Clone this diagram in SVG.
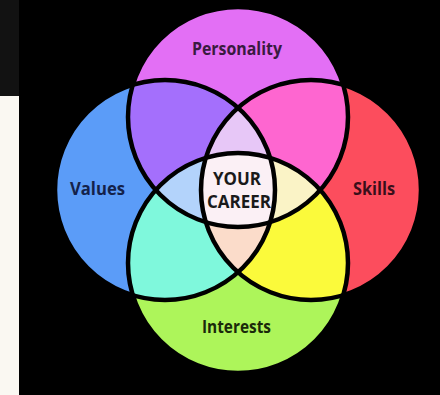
<svg xmlns="http://www.w3.org/2000/svg" width="440" height="395" viewBox="0 0 440 395">
<style>
.lbl{font-family:"Open Sans","Noto Sans","Liberation Sans",sans-serif;font-weight:700;font-size:18px;text-anchor:middle}
.edge{fill:none;stroke:#000;stroke-width:4.5}
</style>
<defs>
<clipPath id="cT"><circle cx="238" cy="117" r="110"/></clipPath>
<clipPath id="cL"><circle cx="165" cy="190" r="110"/></clipPath>
<clipPath id="cR"><circle cx="311" cy="190" r="110"/></clipPath>
<clipPath id="cB"><circle cx="238" cy="263" r="110"/></clipPath>
</defs>
<rect width="440" height="395" fill="#000"/>
<rect x="0" y="0" width="19" height="96" fill="#121212"/>
<rect x="0" y="96" width="19" height="299" fill="#faf8f2"/>

<g id="personality"><circle cx="238" cy="117" r="110" fill="#e36ff5"/></g>
<g id="values"><circle cx="165" cy="190" r="110" fill="#5b9cf8"/></g>
<g id="skills"><circle cx="311" cy="190" r="110" fill="#fc4d5d"/></g>
<g id="interests"><circle cx="238" cy="263" r="110" fill="#adf55a"/></g>

<g id="overlaps">
<g clip-path="url(#cT)"><circle cx="165" cy="190" r="110" fill="#a46ffc"/><circle cx="311" cy="190" r="110" fill="#fe66d0"/></g>
<g clip-path="url(#cB)"><circle cx="165" cy="190" r="110" fill="#7ff8dc"/><circle cx="311" cy="190" r="110" fill="#fbfa3b"/></g>
<g clip-path="url(#cL)"><g clip-path="url(#cR)"><circle cx="238" cy="117" r="110" fill="#e7c7f7"/><circle cx="238" cy="263" r="110" fill="#fbdcca"/></g></g>
<g clip-path="url(#cT)"><g clip-path="url(#cB)"><circle cx="165" cy="190" r="110" fill="#b3d3fb"/><circle cx="311" cy="190" r="110" fill="#faf3c6"/></g></g>
<g clip-path="url(#cT)"><g clip-path="url(#cB)"><g clip-path="url(#cL)"><circle cx="311" cy="190" r="110" fill="#fbf0f5"/></g></g></g>
</g>

<g id="outlines">
<circle class="edge" cx="238" cy="117" r="110"/>
<circle class="edge" cx="165" cy="190" r="110"/>
<circle class="edge" cx="311" cy="190" r="110"/>
<circle class="edge" cx="238" cy="263" r="110"/>
</g>

<g id="labels">
<text class="lbl" x="237" y="55" fill="#3a1a40" textLength="90" lengthAdjust="spacingAndGlyphs">Personality</text>
<text class="lbl" x="97.5" y="195" fill="#14224a" textLength="55" lengthAdjust="spacingAndGlyphs">Values</text>
<text class="lbl" x="374" y="195" fill="#3a0f1a" textLength="42" lengthAdjust="spacingAndGlyphs">Skills</text>
<text class="lbl" x="236.5" y="333" fill="#1a2a0a" textLength="69" lengthAdjust="spacingAndGlyphs">Interests</text>
<text class="lbl" x="237" y="185" fill="#1a1a1a" textLength="48" lengthAdjust="spacingAndGlyphs">YOUR</text>
<text class="lbl" x="239" y="208" fill="#1a1a1a" textLength="64" lengthAdjust="spacingAndGlyphs">CAREER</text>
</g>
</svg>
